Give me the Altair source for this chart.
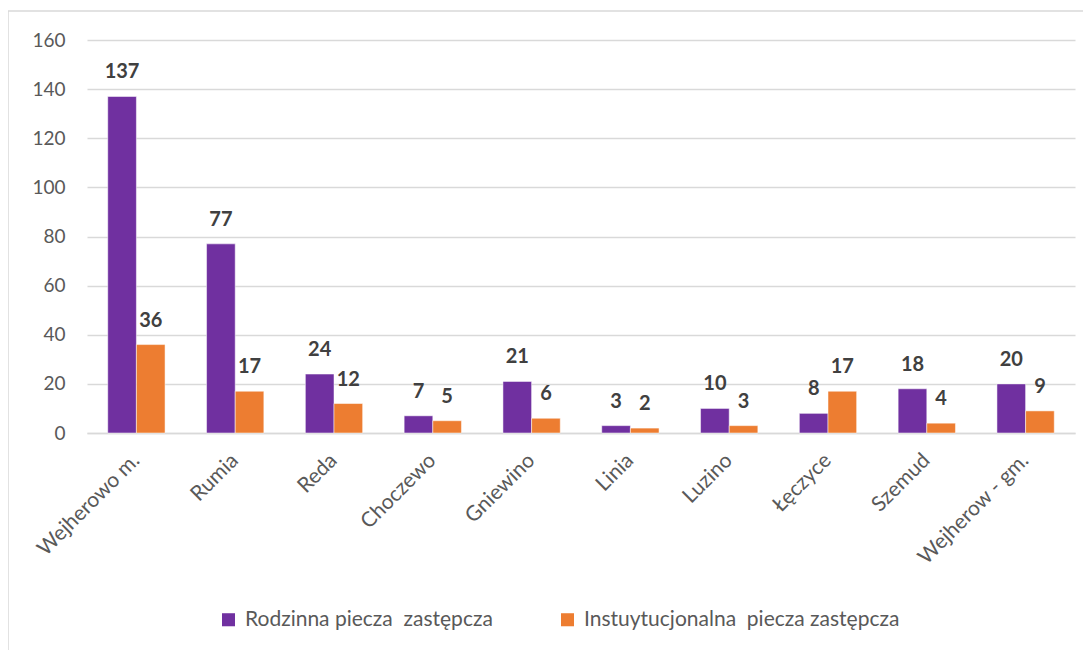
import altair as alt
import pandas as pd

categories = ["Wejherowo m.", "Rumia", "Reda", "Choczewo", "Gniewino", "Linia",
              "Luzino", "Łęczyce", "Szemud", "Wejherow - gm."]
series_names = ["Rodzinna piecza\u00a0 zastępcza", "Instuytucjonalna\u00a0 piecza zastępcza"]
rodzinna = [137, 77, 24, 7, 21, 3, 10, 8, 18, 20]
instytucjonalna = [36, 17, 12, 5, 6, 2, 3, 17, 4, 9]
colors = ["#7030A0", "#ED7D31"]
y_ticks = [0, 20, 40, 60, 80, 100, 120, 140, 160]

rows = []
for c, a, b in zip(categories, rodzinna, instytucjonalna):
    rows.append({"gmina": c, "seria": series_names[0], "wartosc": a})
    rows.append({"gmina": c, "seria": series_names[1], "wartosc": b})
df = pd.DataFrame(rows)

FONT = "Lato"
W, H = 988, 393

x_enc = alt.X("gmina:N", sort=categories, title=None,
              scale=alt.Scale(paddingInner=0.42, paddingOuter=0.21),
              axis=alt.Axis(labelAngle=-45, labelAlign="right", labelBaseline="middle",
                            labelFontSize=21, labelColor="#595959", labelFont=FONT,
                            labelPadding=24, ticks=False, domainColor="#D9D9D9",
                            domainWidth=1.5, grid=False, labelLimit=300))
xoff = alt.XOffset("seria:N", sort=series_names)
y_enc = alt.Y("wartosc:Q", title=None,
              scale=alt.Scale(domain=[0, 160], nice=False),
              axis=alt.Axis(values=y_ticks, labelFontSize=19, labelColor="#595959",
                            labelFont=FONT, labelPadding=22, ticks=False, domain=False,
                            gridColor="#D9D9D9", gridWidth=1.5))

base = alt.Chart(df)
bars = base.mark_bar(stroke="white", strokeWidth=0.5).encode(
    x=x_enc, xOffset=xoff, y=y_enc,
    color=alt.Color("seria:N", sort=series_names,
                    scale=alt.Scale(domain=series_names, range=colors),
                    legend=alt.Legend(title=None, orient="none", direction="horizontal",
                                      legendX=131, legendY=569, symbolType="square",
                                      symbolSize=170, symbolStrokeWidth=0,
                                      labelFontSize=21, labelColor="#595959",
                                      labelFont=FONT, labelOffset=6, columnPadding=64,
                                      labelLimit=400)),
)
labels = base.mark_text(baseline="alphabetic", dy=-18, fontSize=20, fontWeight="bold",
                        font=FONT, color="#404040").encode(
    x=alt.X("gmina:N", sort=categories), xOffset=xoff, y="wartosc:Q",
    text="wartosc:Q",
)

frame_df = pd.DataFrame({"a": [0]})
top_line = alt.Chart(frame_df).mark_rule(color="#D9D9D9", strokeWidth=1.5).encode(
    x=alt.value(-79), x2=alt.value(1010), y=alt.value(-29))
left_line = alt.Chart(frame_df).mark_rule(color="#D9D9D9", strokeWidth=1.5).encode(
    x=alt.value(-79), y=alt.value(-29), y2=alt.value(640))

chart = alt.layer(bars, labels, top_line, left_line).properties(
    width=W, height=H,
    background="white",
    autosize=alt.AutoSizeParams(type="none"),
    padding={"left": 79, "top": 32, "right": 8, "bottom": 220},
).configure_view(strokeWidth=0, stroke="transparent")

chart.save("out.html", embed_options={"renderer": "svg", "actions": False})
